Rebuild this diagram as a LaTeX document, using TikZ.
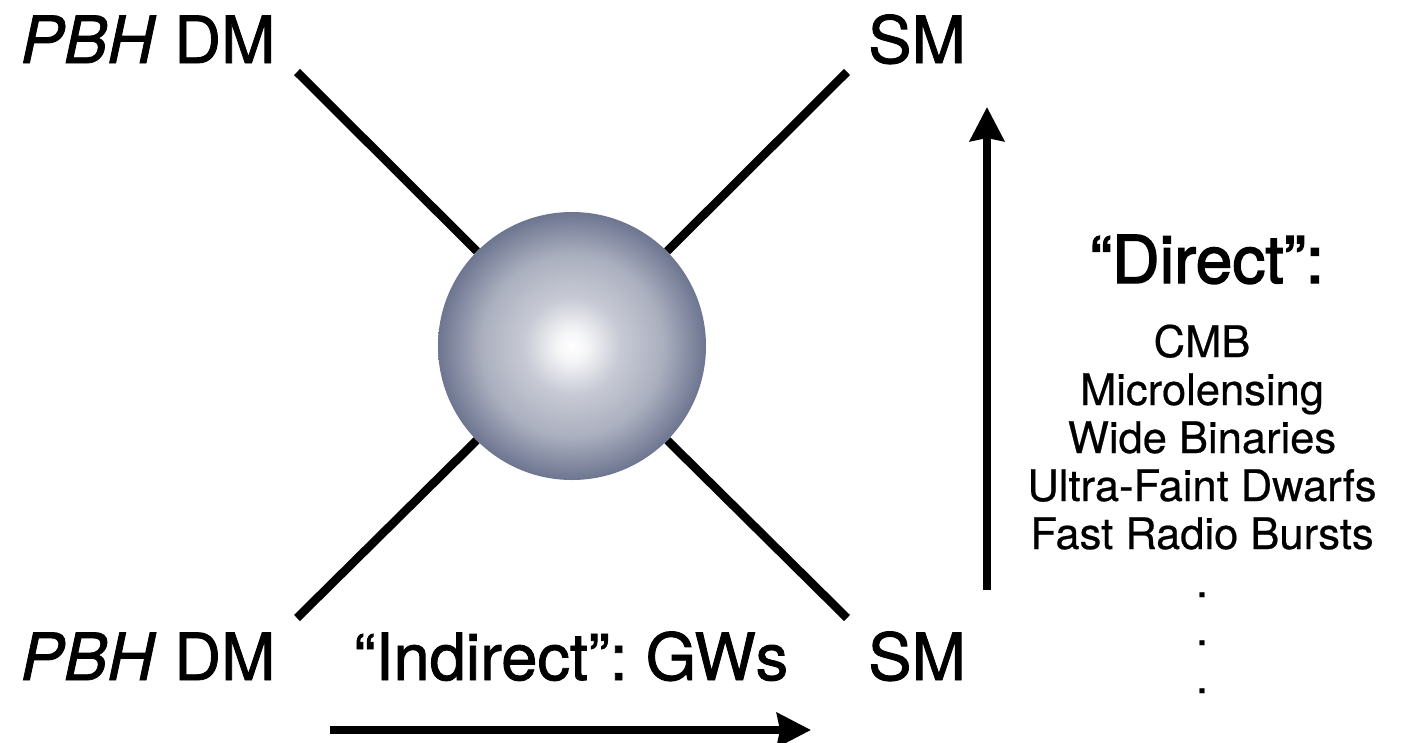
\documentclass[tikz,border=0pt]{standalone}
\usepackage{fontspec}
\setmainfont{TeX Gyre Heros}
\newfontfamily\medfont[FakeBold=1.3]{TeX Gyre Heros}
\newfontfamily\headfont[FakeBold=2.2]{TeX Gyre Heros}
\newfontfamily\listfont[FakeBold=0.5]{TeX Gyre Heros}
\frenchspacing
\usetikzlibrary{arrows.meta}
\definecolor{slate}{HTML}{6D7590}
\pgfdeclareradialshading{pbhball}{\pgfpoint{0bp}{0bp}}{%
  color(0bp)=(white); color(3bp)=(white!92!slate); color(9bp)=(white!62!slate);
  color(17bp)=(white!42!slate); color(25bp)=(slate); color(50bp)=(slate)}
\tikzset{
  bigtext/.style={font=\medfont\fontsize{65}{70}\selectfont, inner sep=0pt, anchor=base},
  headtext/.style={font=\headfont\fontsize{66}{70}\selectfont, inner sep=0pt, anchor=base},
  listtext/.style={font=\listfont\fontsize{43.5}{48}\selectfont, inner sep=0pt, anchor=base},
  leg/.style={line width=8.5pt},
  flow/.style={line width=7.5pt, -{Stealth[length=34pt, width=34pt, inset=3pt]}}
}
\begin{document}
\begin{tikzpicture}[x=1pt, y=-1pt]
  \useasboundingbox (0,0) rectangle (1406,742);
  % the blob and its four legs
  \node[circle, minimum size=268pt, inner sep=0pt, shading=pbhball] (blob) at (572,346) {};
  \coordinate (tl) at (297,72);
  \coordinate (tr) at (847,72);
  \coordinate (bl) at (297,618);
  \coordinate (br) at (847,618);
  \foreach \c in {tl,tr,bl,br}
    \draw[leg] (\c) -- (blob);
  % external states
  \node[bigtext] (dmtop) at (148,63) {\textit{PBH} DM};
  \node[bigtext] (dmbot) at (148,680) {\textit{PBH} DM};
  \node[bigtext] (smtop) at (917,63) {SM};
  \node[bigtext] (smbot) at (917,680) {SM};
  % indirect channel
  \node[bigtext] (indirect) at (571,680) {“Indirect”: GWs};
  \coordinate (ia) at (330,730);
  \coordinate (ib) at (811,730);
  \draw[flow] (ia) -- (ib);
  % direct channel
  \coordinate (da) at (987,590);
  \coordinate (db) at (987,107);
  \draw[flow] (da) -- (db);
  \node[headtext] (direct) at (1207,283) {“Direct”:};
  \foreach \txt [count=\i] in {CMB, Microlensing, Wide Binaries, Ultra-Faint Dwarfs,
      Fast Radio Bursts, ., ., .}
    \node[listtext] (probe\i) at (1202,{357+48*(\i-1)}) {\txt};
\end{tikzpicture}
\end{document}
